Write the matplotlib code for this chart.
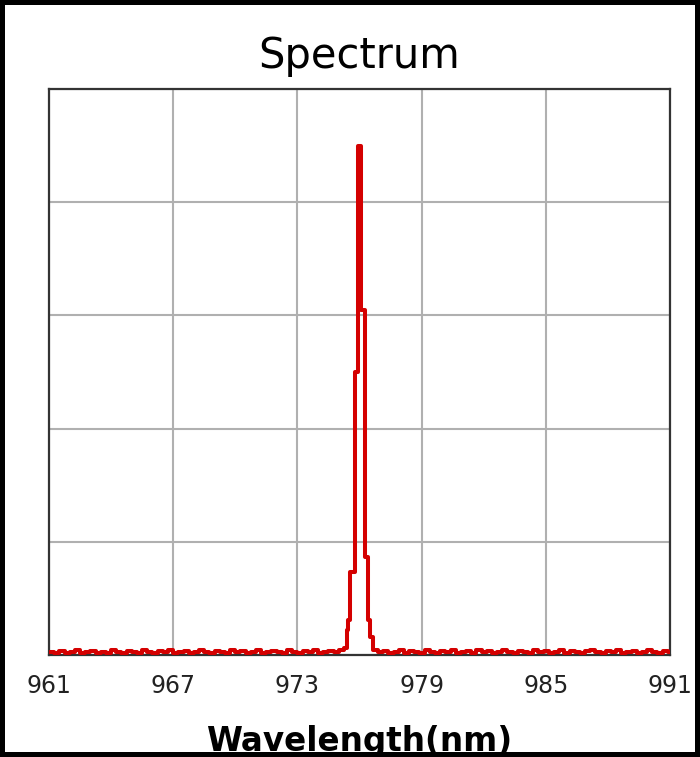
import numpy as np
import matplotlib.pyplot as plt
from matplotlib.patches import Rectangle

# baseline either side of the peak (0.25 nm grid)
left_wl = np.arange(961.0, 975.3, 0.25)
left_val = [0.03, 0.02, 0.035, 0.02, 0.03, 0.045, 0.02, 0.03, 0.035, 0.02,
            0.03, 0.02, 0.045, 0.03, 0.02, 0.035, 0.03, 0.02, 0.045, 0.03,
            0.02, 0.035, 0.03, 0.045, 0.02, 0.03, 0.035, 0.02, 0.03, 0.045,
            0.03, 0.02, 0.035, 0.03, 0.02, 0.045, 0.03, 0.035, 0.02, 0.03,
            0.045, 0.02, 0.03, 0.035, 0.03, 0.02, 0.045, 0.03, 0.02, 0.035,
            0.03, 0.045, 0.02, 0.03, 0.035, 0.03, 0.045, 0.06]

# peak, left bin edges
peak_wl = [975.40, 975.45, 975.54, 975.78, 975.93, 976.09, 976.27, 976.41, 976.50]
peak_val = [0.22, 0.31, 0.73, 2.50, 4.50, 3.05, 0.87, 0.31, 0.16]

right_wl = np.arange(976.65, 991.0, 0.25)
right_val = [0.045, 0.03, 0.035, 0.02, 0.03, 0.045, 0.02, 0.035, 0.03, 0.02,
             0.045, 0.03, 0.02, 0.035, 0.03, 0.045, 0.02, 0.03, 0.035, 0.02,
             0.045, 0.03, 0.035, 0.02, 0.03, 0.045, 0.03, 0.02, 0.035, 0.03,
             0.02, 0.045, 0.03, 0.035, 0.02, 0.03, 0.045, 0.02, 0.035, 0.03,
             0.02, 0.035, 0.045, 0.03, 0.02, 0.035, 0.03, 0.045, 0.02, 0.03,
             0.035, 0.02, 0.03, 0.045, 0.03, 0.02, 0.035, 0.03]

xticks = [961, 967, 973, 979, 985, 991]

wl = np.concatenate([left_wl, peak_wl, right_wl, [991.0]])
val = np.concatenate([left_val, peak_val, right_val, [right_val[-1]]])

fig = plt.figure(figsize=(7, 7.57), dpi=100, facecolor='white')
ax = fig.add_axes([0.070, 0.1347, 0.887, 0.7477])

ax.plot(wl, val, drawstyle='steps-post', color='#d40000', lw=2.9, zorder=3)

ax.set_xlim(961, 991)
ax.set_ylim(0, 5)
ax.set_xticks(xticks)
ax.set_xticklabels([str(t) for t in xticks])
ax.set_yticks([0, 1, 2, 3, 4, 5])
ax.set_yticklabels([])
ax.tick_params(length=0, labelsize=17, colors='#222222', pad=14)
ax.grid(True, color='#b0b0b0', lw=1.5)
ax.set_axisbelow(True)
for s in ax.spines.values():
    s.set_color('#333333')
    s.set_linewidth(1.6)

ax.set_title('Spectrum', fontsize=30, pad=15)
ax.set_xlabel('Wavelength(nm)', fontsize=23.5, fontweight='bold', labelpad=19)

# black frame round the whole picture
fig.patches.append(Rectangle((0, 0), 1, 1, transform=fig.transFigure,
                             fill=False, edgecolor='black', lw=7.2,
                             zorder=10))

fig.savefig('out.png', dpi=100, facecolor='white')
